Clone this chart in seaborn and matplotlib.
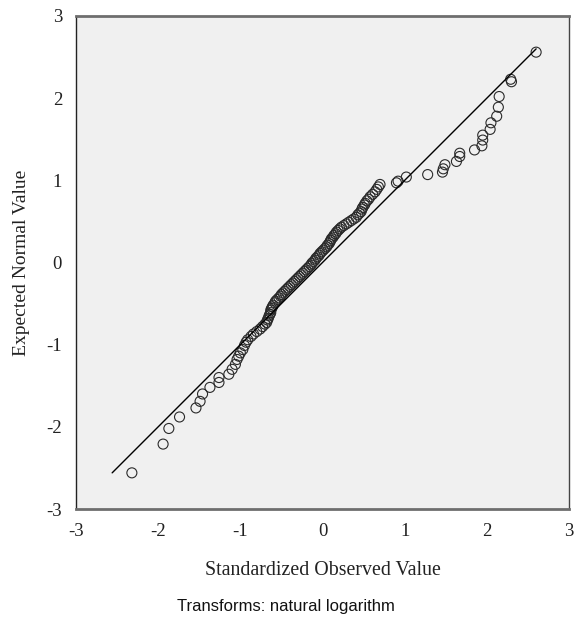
"""Q-Q plot: expected normal vs standardized observed value (log transform)."""

import matplotlib
matplotlib.use("Agg")
import matplotlib.pyplot as plt
import seaborn as sns
import pandas as pd

# upper tail, dense middle band, lower tail
obs_upper = [2.60, 2.29, 2.30, 2.15, 2.14, 2.12, 2.05, 2.04, 1.95, 1.95, 1.94,
             1.85, 1.67, 1.67, 1.63, 1.49, 1.47, 1.46, 1.28, 1.02, 0.92, 0.90]
exp_upper = [2.56, 2.23, 2.20, 2.02, 1.89, 1.78, 1.70, 1.62, 1.55, 1.49, 1.42,
             1.37, 1.33, 1.29, 1.23, 1.19, 1.14, 1.10, 1.07, 1.04, 0.99, 0.97]

obs_mid = [0.70, 0.68, 0.66, 0.64, 0.61, 0.58, 0.56, 0.54, 0.52, 0.51, 0.49, 0.48,
           0.47, 0.45, 0.43, 0.41, 0.38, 0.35, 0.32, 0.29, 0.26, 0.23, 0.21, 0.19,
           0.17, 0.16, 0.14, 0.13, 0.11, 0.10, 0.09, 0.08, 0.06, 0.05, 0.03, 0.01,
           -0.01, -0.03, -0.04, -0.06, -0.08, -0.09, -0.11, -0.13, -0.14, -0.16,
           -0.18, -0.20, -0.22, -0.24, -0.26, -0.28, -0.30, -0.32, -0.34, -0.36,
           -0.38, -0.40, -0.42, -0.44, -0.46, -0.48, -0.50, -0.51, -0.53, -0.55,
           -0.57, -0.58, -0.60, -0.61, -0.62, -0.63, -0.63, -0.64, -0.65, -0.66,
           -0.67, -0.68, -0.70, -0.73, -0.76, -0.80, -0.84, -0.87]
exp_mid = [0.95, 0.92, 0.89, 0.86, 0.83, 0.80, 0.77, 0.75, 0.72, 0.70, 0.67, 0.65,
           0.62, 0.60, 0.58, 0.55, 0.53, 0.51, 0.49, 0.47, 0.45, 0.43, 0.41, 0.39,
           0.37, 0.35, 0.33, 0.31, 0.29, 0.27, 0.25, 0.23, 0.21, 0.19, 0.17, 0.15,
           0.13, 0.11, 0.09, 0.07, 0.05, 0.03, 0.01, -0.01, -0.03, -0.05,
           -0.07, -0.09, -0.11, -0.13, -0.15, -0.17, -0.19, -0.21, -0.23, -0.25,
           -0.27, -0.29, -0.31, -0.33, -0.35, -0.37, -0.39, -0.41, -0.43, -0.45,
           -0.47, -0.49, -0.52, -0.54, -0.56, -0.58, -0.61, -0.63, -0.65, -0.68,
           -0.70, -0.73, -0.75, -0.78, -0.81, -0.84, -0.87, -0.90]

obs_lower = [-0.91, -0.93, -0.95, -0.97, -1.00, -1.02, -1.04, -1.06, -1.10, -1.14,
             -1.26, -1.26, -1.37, -1.46, -1.49, -1.54, -1.74, -1.87, -1.94, -2.32]
exp_lower = [-0.94, -0.97, -1.01, -1.06, -1.10, -1.14, -1.18, -1.24, -1.30, -1.36,
             -1.40, -1.46, -1.52, -1.60, -1.69, -1.77, -1.88, -2.02, -2.21, -2.56]

ref_line = [-2.56, 2.60]
ticks = [-3, -2, -1, 0, 1, 2, 3]
tick_labels = ["-3", "-2", "-1", "0", "1", "2", "3"]

df = pd.DataFrame({
    "obs": obs_upper + obs_mid + obs_lower,
    "exp": exp_upper + exp_mid + exp_lower,
})

sns.set_style("white")
plt.rcParams["font.family"] = ["Liberation Serif", "DejaVu Serif"]

fig = plt.figure(figsize=(5.74, 6.23), dpi=100)
ax = fig.add_axes([76 / 574, 1 - 509 / 623, 493 / 574, 493 / 623])
ax.set_facecolor("#f0f0f0")

sns.lineplot(x=ref_line, y=ref_line, color="black", linewidth=1.0, ax=ax)
sns.scatterplot(data=df, x="obs", y="exp", marker="o", s=52,
                facecolors="none", edgecolor="#2a2a2a", linewidth=0.8, ax=ax)

ax.set_xlim(-3, 3)
ax.set_ylim(-3, 3)
ax.set_xticks(ticks)
ax.set_yticks(ticks)
ax.set_xticklabels(tick_labels)
ax.set_yticklabels(tick_labels)
ax.tick_params(axis="both", direction="out", length=8.5, width=1.3, color="#444444",
               labelsize=13.5, labelcolor="#222222", pad=1.5)

for side in ["top", "bottom"]:
    ax.spines[side].set_color("#6e6e6e")
    ax.spines[side].set_linewidth(2.0)
ax.spines["left"].set_color("#222222")
ax.spines["left"].set_linewidth(1.0)
ax.spines["right"].set_color("#444444")
ax.spines["right"].set_linewidth(1.0)

ax.set_xlabel("Standardized Observed Value", fontsize=14.3, color="#222222", labelpad=15)
ax.set_ylabel("Expected Normal Value", fontsize=14, color="#222222", labelpad=12)

fig.text(0.5 * (175 + 396) / 574, 1 - 606 / 623, "Transforms: natural logarithm",
         ha="center", va="center", fontsize=12, family=["Liberation Sans", "DejaVu Sans"],
         color="#111111")

plt.savefig("out.png", dpi=100)
plt.close()
